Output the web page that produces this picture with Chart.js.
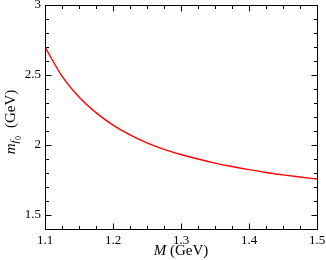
<!DOCTYPE html>
<html>
<head>
<meta charset="utf-8">
<script src="https://cdn.jsdelivr.net/npm/chart.js@4"></script>
<style>
html,body{margin:0;padding:0;background:#fff;}
#wrap{width:326px;height:260px;}
</style>
</head>
<body>
<div id="wrap"><canvas id="c" width="326" height="260"></canvas></div>
<script>
const mValues   = [1.1, 1.125, 1.15, 1.175, 1.2, 1.225, 1.25, 1.275, 1.3, 1.325, 1.35, 1.375, 1.4, 1.425, 1.45, 1.475, 1.5];
const mf0Values = [2.700, 2.492, 2.343, 2.231, 2.142, 2.072, 2.015, 1.969, 1.932, 1.900, 1.871, 1.846, 1.824, 1.804, 1.787, 1.771, 1.757];
const xTickValues = [1.1, 1.2, 1.3, 1.4, 1.5];
const xTickLabels = ['1.1', '1.2', '1.3', '1.4', '1.5'];
const yTickValues = [1.5, 2, 2.5, 3];
const yTickLabels = ['1.5', '2', '2.5', '3'];
const xMinorStep = 0.025;
const yMinorStep = 0.1;

const SERIF = '"Liberation Serif", "DejaVu Serif", serif';

const framePlugin = {
  id: 'frame',
  afterDraw(chart) {
    const {ctx, chartArea: a, scales: {x, y}} = chart;
    ctx.save();
    ctx.strokeStyle = '#000';
    ctx.lineWidth = 1;
    const L = Math.round(a.left) + 0.5, R = Math.round(a.right) + 0.5;
    const T = Math.round(a.top) + 0.5, B = Math.round(a.bottom) + 0.5;
    ctx.beginPath();
    for (let i = 0; ; i++) {
      const v = x.min + i * xMinorStep;
      if (v > x.max + 1e-9) break;
      const isMajor = xTickValues.some(t => Math.abs(t - v) < 1e-6);
      const len = isMajor ? 6 : 3.5;
      const px = Math.round(x.getPixelForValue(v)) + 0.5;
      ctx.moveTo(px, B); ctx.lineTo(px, B - len);
      ctx.moveTo(px, T); ctx.lineTo(px, T + len);
    }
    for (let i = 0; ; i++) {
      const v = y.min + i * yMinorStep;
      if (v > y.max + 1e-9) break;
      const isMajor = yTickValues.some(t => Math.abs(t - v) < 1e-6);
      const len = isMajor ? 6 : 3.5;
      const py = Math.round(y.getPixelForValue(v)) + 0.5;
      ctx.moveTo(L, py); ctx.lineTo(L + len, py);
      ctx.moveTo(R, py); ctx.lineTo(R - len, py);
    }
    ctx.stroke();
    ctx.strokeRect(L, T, R - L, B - T);

    ctx.fillStyle = '#000';
    ctx.textBaseline = 'alphabetic';
    const cx = (a.left + a.right) / 2;
    const f1 = 'italic 15px ' + SERIF, f2 = '15px ' + SERIF;
    ctx.font = f1; const wM = ctx.measureText('M').width;
    ctx.font = f2; const wR = ctx.measureText(' (GeV)').width;
    let sx = cx - (wM + wR) / 2;
    const by = 255;
    ctx.font = f1; ctx.fillText('M', sx, by);
    ctx.font = f2; ctx.fillText(' (GeV)', sx + wM, by);

    ctx.save();
    ctx.translate(15, 122);
    ctx.rotate(-Math.PI / 2);
    const fm = 'italic 15px ' + SERIF, ff = 'italic 11px ' + SERIF, f0 = '8px ' + SERIF, fg = '15px ' + SERIF;
    ctx.font = fm; const w1 = ctx.measureText('m').width;
    ctx.font = ff; const w2 = ctx.measureText('f').width;
    ctx.font = f0; const w3 = ctx.measureText('0').width;
    ctx.font = fg; const w4 = ctx.measureText('  (GeV)').width;
    let tx = -(w1 + w2 + w3 + 1 + w4) / 2;
    ctx.font = fm; ctx.fillText('m', tx, 0); tx += w1;
    ctx.font = ff; ctx.fillText('f', tx, 3); tx += w2 + 0.5;
    ctx.font = f0; ctx.fillText('0', tx, 6); tx += w3 + 0.5;
    ctx.font = fg; ctx.fillText('  (GeV)', tx, 0);
    ctx.restore();
    ctx.restore();
  }
};

new Chart(document.getElementById('c'), {
  type: 'line',
  data: {
    datasets: [{
      data: mValues.map((m, i) => ({x: m, y: mf0Values[i]})),
      borderColor: '#ff0000',
      borderWidth: 1.4,
      pointRadius: 0,
      fill: false,
      cubicInterpolationMode: 'monotone'
    }]
  },
  options: {
    responsive: false,
    animation: false,
    devicePixelRatio: 1,
    layout: {padding: {left: 0, right: 9, top: 5, bottom: 0}},
    plugins: {legend: {display: false}, tooltip: {enabled: false}},
    scales: {
      x: {
        type: 'linear', min: 1.1, max: 1.5,
        border: {display: false},
        grid: {display: false, drawTicks: false},
        afterBuildTicks(s) { s.ticks = xTickValues.map(v => ({value: v})); },
        afterFit(s) { s.height = 31; s.paddingLeft = 0; s.paddingRight = 0; },
        ticks: {
          autoSkip: false, maxRotation: 0, padding: 4, color: '#000',
          font: {family: SERIF, size: 13},
          callback(v) { const i = xTickValues.findIndex(t => Math.abs(t - v) < 1e-6); return i >= 0 ? xTickLabels[i] : ''; }
        }
      },
      y: {
        type: 'linear', min: 1.4, max: 3,
        border: {display: false},
        grid: {display: false, drawTicks: false},
        afterBuildTicks(s) { s.ticks = yTickValues.map(v => ({value: v})); },
        afterFit(s) { s.width = 45; s.paddingTop = 0; s.paddingBottom = 0; },
        ticks: {
          autoSkip: false, padding: 4, color: '#000',
          font: {family: SERIF, size: 13},
          callback(v) { const i = yTickValues.findIndex(t => Math.abs(t - v) < 1e-6); return i >= 0 ? yTickLabels[i] : ''; }
        }
      }
    }
  },
  plugins: [framePlugin]
});
</script>
</body>
</html>
